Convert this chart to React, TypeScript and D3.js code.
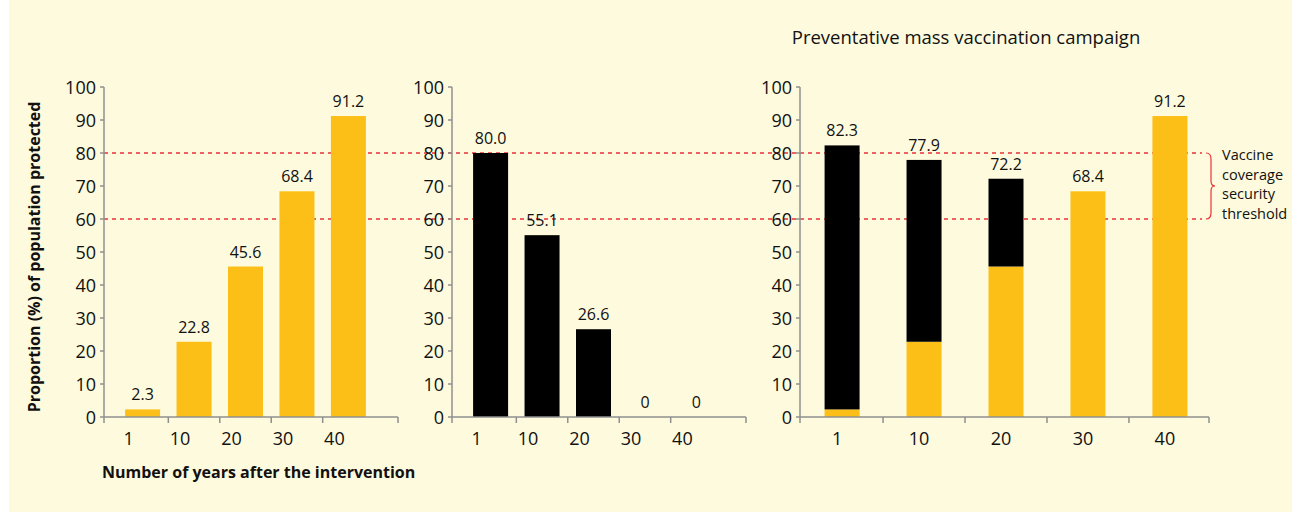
import React, { useEffect, useRef } from 'react';
import * as d3 from 'd3';

// years after the intervention
const years = ['1', '10', '20', '30', '40'];
// routine vaccination (yellow) and mass campaign (black), % protected
const routine = [2.3, 22.8, 45.6, 68.4, 91.2];
const campaign = [80.0, 55.1, 26.6, 0, 0];
const yTicks = [0, 10, 20, 30, 40, 50, 60, 70, 80, 90, 100];
const thresholds = [60, 80];
const thresholdText = ['Vaccine', 'coverage', 'security', 'threshold'];
const panel3Title = 'Preventative mass vaccination campaign';
const yTitle = 'Proportion (%) of population protected';
const xTitle = 'Number of years after the intervention';

const FONT = "'Open Sans', sans-serif";
const YELLOW = '#fcbf17';
const AXIS = '#8f8f8f';
const TEXT = '#111111';

const App = () => {
  const ref = useRef(null);

  useEffect(() => {
    if (!ref.current) return;
    d3.select(ref.current).selectAll('*').remove();

    const width = 1292;
    const height = 514;

    // pinned to the page corner, past the body margin
    const svg = d3.select(ref.current)
      .append('svg')
      .attr('width', width)
      .attr('height', height)
      .style('position', 'absolute')
      .style('left', 0)
      .style('top', 0)
      .style('font-family', FONT);

    // pale background
    svg.append('rect')
      .attr('x', 9).attr('y', 0)
      .attr('width', width - 9).attr('height', 512)
      .attr('fill', '#fefadd');

    const y = d3.scaleLinear().domain([0, 100]).range([417, 87]);

    // threshold lines across all panels
    thresholds.forEach(t => {
      svg.append('line')
        .attr('x1', 104).attr('x2', 1202)
        .attr('y1', y(t)).attr('y2', y(t))
        .attr('stroke', '#e8323a')
        .attr('stroke-width', 1.3)
        .attr('stroke-dasharray', '4,4');
    });

    const fmt = v => (v === 0 ? '0' : v.toFixed(1));

    const rows = years.map((yr, i) => ({ year: yr, routine: routine[i], campaign: campaign[i] }));

    // panel layout: axis origin, band range, paddings, axis end, label shift
    const panels = [
      { x0: 104, x1: 387, axisEnd: 398, pi: 0.32, po: 0.41, shift: -14, keys: ['routine'] },
      { x0: 452, x1: 735, axisEnd: 746, pi: 0.32, po: 0.41, shift: -14, keys: ['campaign'] },
      { x0: 800, x1: 1212, axisEnd: 1209, pi: 0.573, po: 0.3, shift: -5, keys: ['routine', 'campaign'] }
    ];

    const colorOf = { routine: YELLOW, campaign: '#000000' };

    panels.forEach(p => {
      const g = svg.append('g');
      const x = d3.scaleBand().domain(years).range([p.x0, p.x1])
        .paddingInner(p.pi).paddingOuter(p.po);

      const stacked = d3.stack().keys(p.keys)(rows);
      stacked.forEach(layer => {
        g.selectAll(null)
          .data(layer)
          .enter()
          .append('rect')
          .attr('x', d => x(d.data.year))
          .attr('width', x.bandwidth())
          .attr('y', d => y(d[1]))
          .attr('height', d => y(d[0]) - y(d[1]))
          .attr('fill', colorOf[layer.key]);
      });

      // value labels on top of each bar
      const totals = rows.map(r => d3.sum(p.keys, k => r[k]));
      g.selectAll(null)
        .data(years)
        .enter()
        .append('text')
        .attr('x', d => x(d) + x.bandwidth() / 2)
        .attr('y', (d, i) => y(totals[i]) - 9)
        .attr('text-anchor', 'middle')
        .style('font-size', '16px')
        .attr('fill', TEXT)
        .text((d, i) => fmt(totals[i]));

      // y axis
      g.append('line')
        .attr('x1', p.x0).attr('x2', p.x0)
        .attr('y1', y(0)).attr('y2', y(100))
        .attr('stroke', AXIS).attr('stroke-width', 1.5);
      g.selectAll(null).data(yTicks).enter().append('line')
        .attr('x1', p.x0 - 4).attr('x2', p.x0)
        .attr('y1', d => y(d)).attr('y2', d => y(d))
        .attr('stroke', AXIS).attr('stroke-width', 1.5);
      g.selectAll(null).data(yTicks).enter().append('text')
        .attr('x', p.x0 - 8)
        .attr('y', d => y(d) + 6.5)
        .attr('text-anchor', 'end')
        .style('font-size', '18px')
        .attr('fill', TEXT)
        .text(d => d);

      // x axis
      g.append('line')
        .attr('x1', p.x0).attr('x2', p.axisEnd)
        .attr('y1', y(0)).attr('y2', y(0))
        .attr('stroke', AXIS).attr('stroke-width', 1.5);
      const tickXs = [p.x0, ...years.slice(0, -1).map(d => x(d) + x.bandwidth() + (x.step() - x.bandwidth()) / 2), p.axisEnd];
      g.selectAll(null).data(tickXs).enter().append('line')
        .attr('x1', d => d).attr('x2', d => d)
        .attr('y1', y(0)).attr('y2', y(0) + 6)
        .attr('stroke', AXIS).attr('stroke-width', 1.5);
      g.selectAll(null).data(years).enter().append('text')
        .attr('x', d => x(d) + x.bandwidth() / 2 + p.shift)
        .attr('y', 445)
        .attr('text-anchor', 'middle')
        .style('font-size', '18px')
        .attr('fill', TEXT)
        .text(d => d);
    });

    // brace and threshold note
    const top = y(80);
    const bot = y(60);
    const mid = (top + bot) / 2;
    const bx = 1206;
    svg.append('path')
      .attr('d', `M${bx},${top} Q${bx + 5},${top} ${bx + 5},${top + 6} L${bx + 5},${mid - 5} Q${bx + 5},${mid} ${bx + 9},${mid} Q${bx + 5},${mid} ${bx + 5},${mid + 5} L${bx + 5},${bot - 6} Q${bx + 5},${bot} ${bx},${bot}`)
      .attr('fill', 'none')
      .attr('stroke', '#e8323a')
      .attr('stroke-width', 1.2);

    svg.append('text')
      .attr('x', 1222)
      .attr('y', 160)
      .style('font-size', '14.5px')
      .attr('fill', TEXT)
      .selectAll('tspan')
      .data(thresholdText)
      .enter()
      .append('tspan')
      .attr('x', 1222)
      .attr('dy', (d, i) => (i === 0 ? 0 : 19.5))
      .text(d => d);

    // titles
    svg.append('text')
      .attr('x', 966).attr('y', 44)
      .attr('text-anchor', 'middle')
      .style('font-size', '18.5px')
      .attr('fill', TEXT)
      .text(panel3Title);

    svg.append('text')
      .attr('transform', `translate(40, ${y(48.5)}) rotate(-90)`)
      .attr('text-anchor', 'middle')
      .style('font-size', '16px')
      .style('font-weight', 'bold')
      .attr('fill', TEXT)
      .text(yTitle);

    svg.append('text')
      .attr('x', 102).attr('y', 478)
      .style('font-size', '16px')
      .style('font-weight', 'bold')
      .attr('fill', TEXT)
      .text(xTitle);
  }, []);

  return <div ref={ref} style={{ width: 1292, height: 514 }} />;
};

export default App;
